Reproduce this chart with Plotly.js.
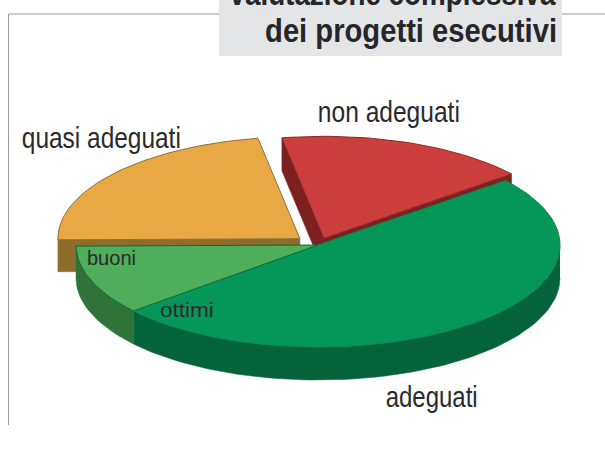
<!DOCTYPE html>
<html>
<head>
<meta charset="utf-8">
<script src="https://cdn.plot.ly/plotly-3.0.1.min.js"></script>
<style>html,body{margin:0;padding:0;background:#fff;overflow:hidden}#chart{width:605px;height:452px}</style>
</head>
<body>
<div id="chart"></div>
<script>
// Valutazione complessiva dei progetti esecutivi: shares in percent, clockwise
const categories = ['non adeguati', 'adeguati', 'ottimi', 'buoni', 'quasi adeguati'];
const shares = [16.9, 49.7, 0, 11, 22.4];
const pulls = [0.07, 0, 0, 0, 0.097];
const topColors = ['#cb3e3b', '#05975a', '#05975a', '#4fae59', '#e8a843'];
const wallColors = ['#7c2020', '#05633c', '#05633c', '#2f7339', '#8d6c2c'];
const edgeColors = ['#8a2a28', '#078a52', '#078a52', '#0f6a3a', '#8f7038'];

// Tilted pie geometry, in the pixel-like units of the hidden axes
const cx = 318, cy = 245, rx = 242, ry = 102, depth = 33, startAngle = 100;

const rad = d => d * Math.PI / 180;
const pt = (c, a, dy) => [c[0] + rx * Math.cos(rad(a)), c[1] - ry * Math.sin(rad(a)) + dy];

function arc(c, a0, a1, dy) {
  const n = Math.max(2, Math.ceil(Math.abs(a1 - a0) / 2));
  const out = [];
  for (let i = 0; i <= n; i++) out.push(pt(c, a0 + (a1 - a0) * i / n, dy));
  return out;
}
function polygon(points, fill, line, width) {
  return {
    type: 'scatter', mode: 'lines', hoverinfo: 'skip', showlegend: false,
    x: points.map(p => p[0]), y: points.map(p => p[1]),
    fill: 'toself', fillcolor: fill,
    line: {color: line || fill, width: width === undefined ? 0.5 : width}
  };
}

// Lay the slices out clockwise from the start angle
const total = shares.reduce((a, b) => a + b, 0);
let cursor = startAngle;
const slices = categories.map((name, i) => {
  const a0 = cursor, a1 = cursor - shares[i] / total * 360;
  cursor = a1;
  const mid = rad((a0 + a1) / 2);
  const c = [cx + pulls[i] * rx * Math.cos(mid), cy - pulls[i] * ry * Math.sin(mid)];
  return {i, a0, a1, c};
}).filter(s => s.a0 !== s.a1);

function face(s) {
  return polygon([s.c, ...arc(s.c, s.a0, s.a1, 0), s.c], topColors[s.i], edgeColors[s.i], 1);
}
// Flat cut faces seen from the front
function cut(s, a) {
  const p = pt(s.c, a, 0);
  return polygon([s.c, p, [p[0], p[1] + depth], [s.c[0], s.c[1] + depth], s.c], wallColors[s.i]);
}
// Rim of the disc, only where it faces the viewer
function rim(s) {
  const a0 = Math.min(s.a0, 0), a1 = Math.max(s.a1, -180);
  if (a0 <= a1) return null;
  return polygon([...arc(s.c, a0, a1, 0), ...arc(s.c, a1, a0, depth)], wallColors[s.i]);
}

const pulled = slices.filter(s => pulls[s.i] > 0);
const seated = slices.filter(s => pulls[s.i] === 0);
const traces = [];
const red = pulled.find(s => categories[s.i] === 'non adeguati');
const orange = pulled.find(s => categories[s.i] === 'quasi adeguati');
traces.push(cut(red, red.a0), cut(red, red.a1), cut(orange, -180));
pulled.forEach(s => traces.push(face(s)));
seated.forEach(s => { const r = rim(s); if (r) traces.push(r); });
seated.forEach(s => traces.push(face(s)));

// Text is set in a condensed cut: each string gets its own run length
const runLengths = {
  'valutazione complessiva': 326,
  'dei progetti esecutivi': 292,
  'non adeguati': 142,
  'quasi adeguati': 159,
  'adeguati': 92,
  'buoni': 49,
  'ottimi': 54
};
const labelFont = 'Liberation Sans, Arial, sans-serif';
const label = (text, x, y, size) => ({
  text, x, y, xref: 'x', yref: 'y', xanchor: 'center', yanchor: 'middle', showarrow: false,
  font: {family: labelFont, size, color: '#2a2a2e'}
});
const heading = (text, x, y, yshift) => ({
  text, x, y, yshift, xref: 'x', yref: 'y', xanchor: 'center', yanchor: 'middle', showarrow: false,
  font: {family: labelFont, size: 33, color: '#26262a', weight: 700}
});

const layout = {
  width: 605, height: 452,
  margin: {l: 0, r: 0, t: 0, b: 0},
  paper_bgcolor: '#ffffff', plot_bgcolor: '#ffffff',
  showlegend: false,
  xaxis: {range: [0, 605], visible: false, fixedrange: true},
  yaxis: {range: [452, 0], visible: false, fixedrange: true},
  shapes: [
    {type: 'line', xref: 'x', yref: 'y', x0: 8.5, y0: 14, x1: 219, y1: 14, line: {color: '#9a9a9a', width: 1}},
    {type: 'line', xref: 'x', yref: 'y', x0: 562, y0: 14, x1: 605, y1: 14, line: {color: '#9a9a9a', width: 1}},
    {type: 'line', xref: 'x', yref: 'y', x0: 8.5, y0: 14, x1: 8.5, y1: 425, line: {color: '#9a9a9a', width: 1}},
    {type: 'rect', xref: 'x', yref: 'y', x0: 219, y0: 0, x1: 562, y1: 56, fillcolor: '#e4e5e7', line: {width: 0}, layer: 'below'}
  ],
  annotations: [
    heading('valutazione complessiva', 393, 0, 7),
    heading('dei progetti esecutivi', 411, 30, 0),
    label('non adeguati', 389, 112, 29),
    label('quasi adeguati', 101.5, 138, 29),
    label('adeguati', 431, 397, 29),
    label('buoni', 111.5, 258, 20),
    label('ottimi', 187, 310, 20)
  ]
};

Plotly.newPlot('chart', traces, layout, {displayModeBar: false, staticPlot: true}).then(gd => {
  gd.querySelectorAll('text.annotation-text').forEach(t => {
    const run = runLengths[t.textContent];
    if (run) {
      t.setAttribute('textLength', run);
      t.setAttribute('lengthAdjust', 'spacingAndGlyphs');
    }
  });
});
</script>
</body>
</html>
